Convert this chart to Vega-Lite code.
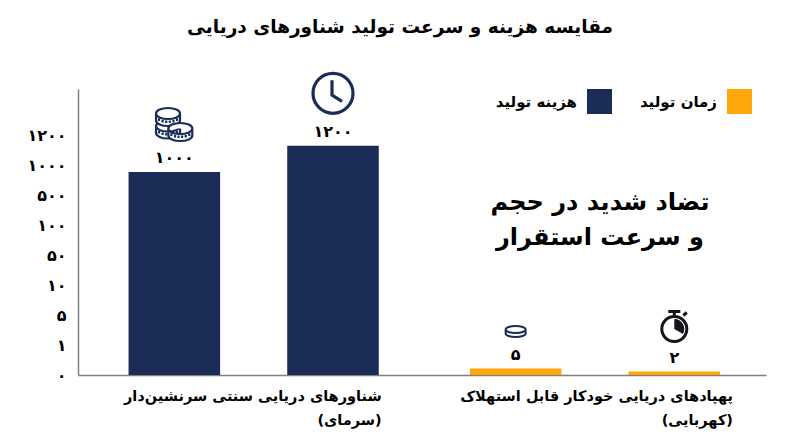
{"$schema":"https://vega.github.io/schema/vega-lite/v6.json","width":688,"height":286,"autosize":"none","padding":{"left":78,"top":89,"right":34,"bottom":72},"background":"white","title":{"text":"مقایسه هزینه و سرعت تولید شناورهای دریایی","anchor":"middle","dx":-22,"offset":21,"baseline":"middle","font":"DejaVu Sans","fontSize":18.5,"fontWeight":"bold","color":"#000000"},"config":{"view":{"stroke":null},"font":"DejaVu Sans"},"datasets":{"bars":[{"platform":"شناورهای دریایی سنتی سرنشین‌دار (سرمای)","measure":"هزینه تولید","series":"هزینه تولید","value":1000,"label":"۱۰۰۰","icon":"coins"},{"platform":"شناورهای دریایی سنتی سرنشین‌دار (سرمای)","measure":"زمان تولید","series":"هزینه تولید","value":1200,"label":"۱۲۰۰","icon":"clock"},{"platform":"پهپادهای دریایی خودکار قابل استهلاک (کهربایی)","measure":"هزینه تولید","series":"زمان تولید","value":5,"label":"۵","icon":"coin"},{"platform":"پهپادهای دریایی خودکار قابل استهلاک (کهربایی)","measure":"زمان تولید","series":"زمان تولید","value":2,"label":"۲","icon":"stopwatch"}],"ticks":[{"tick":"۰"},{"tick":"۱"},{"tick":"۵"},{"tick":"۱۰"},{"tick":"۵۰"},{"tick":"۱۰۰"},{"tick":"۵۰۰"},{"tick":"۱۰۰۰"},{"tick":"۱۲۰۰"}]},"resolve":{"scale":{"y":"independent"},"axis":{"y":"independent"}},"layer":[{"data":{"name":"bars"},"encoding":{"x":{"field":"platform","type":"nominal","sort":null,"scale":{"domain":["شناورهای دریایی سنتی سرنشین‌دار (سرمای)","پهپادهای دریایی خودکار قابل استهلاک (کهربایی)"],"paddingInner":0,"paddingOuter":0.0079,"align":0.93},"axis":{"title":null,"labelAngle":0,"ticks":false,"domainColor":"#7f7f7f","domainWidth":1.5,"labelAlign":"right","labelBaseline":"top","labelFont":"DejaVu Sans","labelFontSize":14.5,"labelFontWeight":"bold","labelColor":"#000000","labelLimit":500,"labelPadding":14,"labelLineHeight":24,"labelOffset":{"condition":{"test":"indexof(datum.label,'کهربایی')>=0","value":138},"value":128},"labelExpr":"split(replace(datum.label,' (','|('),'|')","labelOverlap":false}},"xOffset":{"field":"measure","type":"nominal","scale":{"domain":["هزینه تولید","زمان تولید"],"paddingInner":0.423,"paddingOuter":0.287}},"y":{"field":"value","type":"quantitative","scale":{"domain":[0,2,5,1000,1200,1630],"range":[286,282.5,279.5,83,56.7,0],"nice":false,"zero":false},"axis":{"title":null,"orient":"left","labels":false,"ticks":false,"grid":false,"domainColor":"#7f7f7f","domainWidth":1.5,"tickCount":0}}},"layer":[{"mark":{"type":"bar"},"encoding":{"color":{"field":"series","type":"nominal","scale":{"domain":["هزینه تولید","زمان تولید"],"range":["#1b2d57","#ffa60a"]},"legend":{"title":null,"orient":"none","legendX":509,"legendY":0,"direction":"horizontal","symbolType":"square","symbolSize":625,"symbolStrokeWidth":0,"symbolOpacity":1,"labelFont":"DejaVu Sans","labelFontSize":15,"labelFontWeight":"bold","labelColor":"#000000","labelAlign":"right","labelOffset":-35,"columnPadding":27,"labelLimit":200}}}},{"mark":{"type":"text","dy":-14,"baseline":"middle","fontSize":16,"fontWeight":"bold","color":"#000000","font":"DejaVu Sans"},"encoding":{"text":{"field":"label"}}},{"transform":[{"filter":"datum.icon=='clock'"}],"mark":{"type":"point","size":4,"filled":false,"stroke":"#1b2d57","strokeWidth":3.2,"opacity":1,"shape":"M-20 -52.4a20 20 0 1 1 40 0a20 20 0 1 1 -40 0zM-1 -65.5v15l10 6.2"}},{"transform":[{"filter":"datum.icon=='coins'"}],"mark":{"type":"point","size":4,"filled":true,"fill":"#ffffff","stroke":"#1b2d57","strokeWidth":2.2,"opacity":1,"shape":"M-18.3 -46a12 5.5 0 1 1 24 0a12 5.5 0 1 1 -24 0zv7a12 5.5 0 0 0 24 0v-7m-3 5.1v2.5m-3.6 -1.2v2.5m-3.6 -2v2.5m-3.6 -2.5v2.5m-3.6 -3v2.5m-3.6 -3.8v2.5"}},{"transform":[{"filter":"datum.icon=='coins'"}],"mark":{"type":"point","size":4,"filled":true,"fill":"#ffffff","stroke":"#1b2d57","strokeWidth":2.2,"opacity":1,"shape":"M-18.3 -58.5a12 5.5 0 1 1 24 0a12 5.5 0 1 1 -24 0zv7a12 5.5 0 0 0 24 0v-7m-3 5.1v2.5m-3.6 -1.2v2.5m-3.6 -2v2.5m-3.6 -2.5v2.5m-3.6 -3v2.5m-3.6 -3.8v2.5"}},{"transform":[{"filter":"datum.icon=='coins'"}],"mark":{"type":"point","size":4,"filled":true,"fill":"#ffffff","stroke":"#1b2d57","strokeWidth":2.2,"opacity":1,"shape":"M-6 -43.5a12 5.5 0 1 1 24 0a12 5.5 0 1 1 -24 0zv7a12 5.5 0 0 0 24 0v-7m-3 5.1v2.5m-3.6 -1.2v2.5m-3.6 -2v2.5m-3.6 -2.5v2.5m-3.6 -3v2.5m-3.6 -3.8v2.5"}},{"transform":[{"filter":"datum.icon=='coin'"}],"mark":{"type":"point","size":4,"filled":true,"fill":"#ffffff","stroke":"#1b2d57","strokeWidth":2,"opacity":1,"shape":"M-10 -39a10 3.5 0 1 1 20 0a10 3.5 0 1 1 -20 0zv4a10 3.5 0 0 0 20 0v-4"}},{"transform":[{"filter":"datum.icon=='stopwatch'"}],"mark":{"type":"point","size":4,"filled":false,"stroke":"#14161c","strokeWidth":3,"opacity":1,"shape":"M-12.5 -42.5a12.5 12.5 0 1 1 25 0a12.5 12.5 0 1 1 -25 0zM-6 -60h12M0 -60v5M9 -56l3.5 -3"}},{"transform":[{"filter":"datum.icon=='stopwatch'"}],"mark":{"type":"point","size":4,"filled":true,"fill":"#14161c","opacity":1,"shape":"M0 -42.5V-52.5A10 10 0 0 1 8.7 -37.5Z"}},{"data":{"values":[{"note":"تضاد شدید در حجم\nو سرعت استقرار","platform":"پهپادهای دریایی خودکار قابل استهلاک (کهربایی)","value":843}]},"mark":{"type":"text","dx":5,"baseline":"middle","align":"center","lineBreak":"\n","lineHeight":35,"fontSize":24,"fontWeight":"bold","color":"#000000","font":"DejaVu Sans"},"encoding":{"text":{"field":"note"},"xOffset":null}}]},{"data":{"name":"ticks"},"mark":{"type":"point","opacity":0},"encoding":{"y":{"field":"tick","type":"ordinal","sort":null,"scale":{"type":"point","domain":["۰","۱","۵","۱۰","۵۰","۱۰۰","۵۰۰","۱۰۰۰","۱۲۰۰"],"range":[286,46],"padding":0},"axis":{"title":null,"orient":"left","domain":false,"ticks":false,"labelPadding":12,"labelFont":"DejaVu Sans","labelFontSize":16,"labelFontWeight":"bold","labelColor":"#000000","labelOverlap":false}}}}]}
